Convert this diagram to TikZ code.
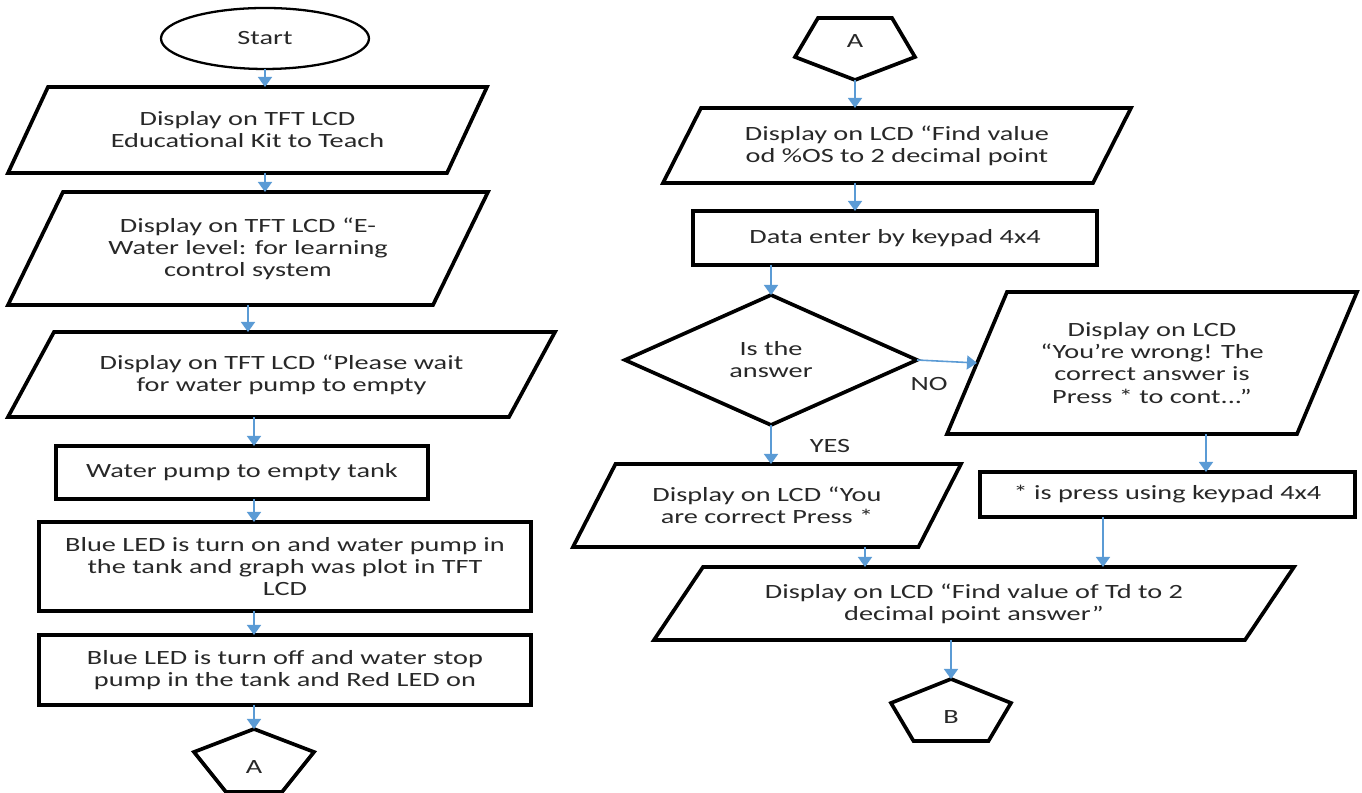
\documentclass[tikz,border=0pt]{standalone}
\usepackage{fontspec}
\setmainfont{Carlito}[FakeStretch=1.4]
\usetikzlibrary{shapes.geometric, arrows.meta, calc}
\definecolor{flowblue}{RGB}{91,155,213}
\definecolor{inkgrey}{RGB}{40,40,40}

\begin{document}
\begin{tikzpicture}[
        every node/.style={font={\fontsize{11.5}{12.6}\selectfont}, text=inkgrey},
        terminal/.style={ellipse, draw, line width=1.3pt, inner sep=0pt, outer sep=0pt},
        io/.style={rectangle, inner sep=0pt, outer sep=0pt, align=center},
        process/.style={rectangle, draw, line width=2.1pt, inner sep=0pt, outer sep=0pt, align=center},
        decision/.style={diamond, draw, line width=2.1pt, aspect=2.25, inner sep=0pt, outer sep=0pt, align=center},
        outline/.style={draw, line width=2.1pt},
        flow/.style={draw=flowblue, line width=0.9pt, -{Triangle[width=0.28cm, length=0.2cm]}},
    ]
    \path[use as bounding box, fill=white] (0, 0) rectangle (27.24, 15.86);

    % Left column
    \node[terminal, minimum width=4.16cm, minimum height=1.22cm] (start) at (5.30, 15.09) {Start};
    \node[io, minimum width=8.78cm, minimum height=1.72cm] (p1) at (4.95, 13.26)
    {Display on TFT LCD\\Educational Kit to Teach};
    \node[io, minimum width=8.5cm, minimum height=2.26cm] (p2) at (4.96, 10.89)
    {Display on TFT LCD “E-\\Water level: for learning\\control system};
    \node[io, minimum width=10.02cm, minimum height=1.7cm] (p3) at (5.63, 8.37)
    {Display on TFT LCD “Please wait\\for water pump to empty};
    \node[process, minimum width=7.44cm, minimum height=1.06cm] (r1) at (4.84, 6.41)
    {Water pump to empty tank};
    \node[process, minimum width=9.84cm, minimum height=1.78cm] (r2) at (5.70, 4.53)
    {Blue LED is turn on and water pump in\\the tank and graph was plot in TFT\\LCD};
    \node[process, minimum width=9.84cm, minimum height=1.4cm] (r3) at (5.70, 2.46)
    {Blue LED is turn off and water stop\\pump in the tank and Red LED on};
    \node (conA) at (5.08, 0.52) {A};
    \draw[outline, shift={(conA)}] (0, 0.76) coordinate (conA top) -- (1.2, 0.30)
        -- (0.56, -0.50) -- (-0.56, -0.50) -- (-1.2, 0.30) -- cycle;

    % Right column
    \node (conA2) at (17.10, 15.04) {A};
    \draw[outline, shift={(conA2)}] (-0.74, 0.46) -- (0.74, 0.46) -- (1.2, -0.32)
        -- (0, -0.78) coordinate (conA2 bottom) -- (-1.2, -0.32) -- cycle;
    \node[io, minimum width=8.6cm, minimum height=1.5cm] (p4) at (17.94, 12.95)
    {Display on LCD “Find value\\od \%OS to 2 decimal point};
    \node[process, minimum width=8.08cm, minimum height=1.08cm] (r4) at (17.90, 11.10)
    {Data enter by keypad 4x4};
    \node[decision, minimum width=5.84cm, minimum height=2.6cm] (dec) at (15.42, 8.66)
    {Is the\\answer};
    \node[io, minimum width=7cm, minimum height=2.84cm] (p5) at (23.04, 8.60)
    {Display on LCD\\“You’re wrong! The\\correct answer is\\Press * to cont...”};
    \node[process, minimum width=7.5cm, minimum height=0.9cm] (r5) at (23.35, 5.97)
    {* is press using keypad 4x4};
    \node[io, minimum width=6.91cm, minimum height=1.66cm] (p6) at (15.34, 5.75)
    {Display on LCD “You\\are correct Press *};
    \node[io, minimum width=11.82cm, minimum height=1.46cm] (p7) at (19.48, 3.79)
    {Display on LCD “Find value of Td to 2\\decimal point answer”};
    \node (conB) at (19.02, 1.52) {B};
    \draw[outline, shift={(conB)}] (0, 0.76) coordinate (conB top) -- (1.2, 0.28)
        -- (0.75, -0.48) -- (-0.75, -0.48) -- (-1.2, 0.28) -- cycle;

    % Slanted outlines of the display boxes
    \foreach \n/\s in {p1/0.8, p2/1.1, p3/0.92, p4/0.76, p5/1.2, p6/0.85, p7/0.98} {
        \draw[outline] ($(\n.north west)+(\s/2, 0)$) -- ($(\n.north east)+(\s/2, 0)$)
            -- ($(\n.south east)-(\s/2, 0)$) -- ($(\n.south west)-(\s/2, 0)$) -- cycle;
    }

    % Arrows, left column
    \draw[flow] (start.south) -- (start.south |- p1.north);
    \draw[flow] (p1.south -| start) -- (p2.north -| start);
    \draw[flow] (p2.south) -- (p2.south |- p3.north);
    \draw[flow] (p3.south -| conA) -- (r1.north -| conA);
    \draw[flow] (r1.south -| conA) -- (r2.north -| conA);
    \draw[flow] (r2.south -| conA) -- (r3.north -| conA);
    \draw[flow] (r3.south -| conA) -- (conA top);

    % Arrows, right column
    \draw[flow] (conA2 bottom) -- (conA2 bottom |- p4.north);
    \draw[flow] (p4.south -| conA2) -- (r4.north -| conA2);
    \draw[flow] (r4.south -| dec) -- (dec.north);
    \draw[flow] (dec.east) -- (p5.west);
    \node (no) at (18.58, 8.18) {NO};
    \draw[flow] (dec.south) -- (dec.south |- p6.north);
    \node (yes) at (16.60, 6.94) {YES};
    \draw[flow] ($(p5.south)+(1.08, 0)$) -- ($(p5.south |- r5.north)+(1.08, 0)$);
    \draw[flow] ($(r5.south)+(-1.29, 0)$) -- ($(r5.south |- p7.north)+(-1.29, 0)$);
    \draw[flow] ($(p6.south)+(1.96, 0)$) -- ($(p6.south |- p7.north)+(1.96, 0)$);
    \draw[flow] (p7.south -| conB) -- (conB top);
\end{tikzpicture}
\end{document}
